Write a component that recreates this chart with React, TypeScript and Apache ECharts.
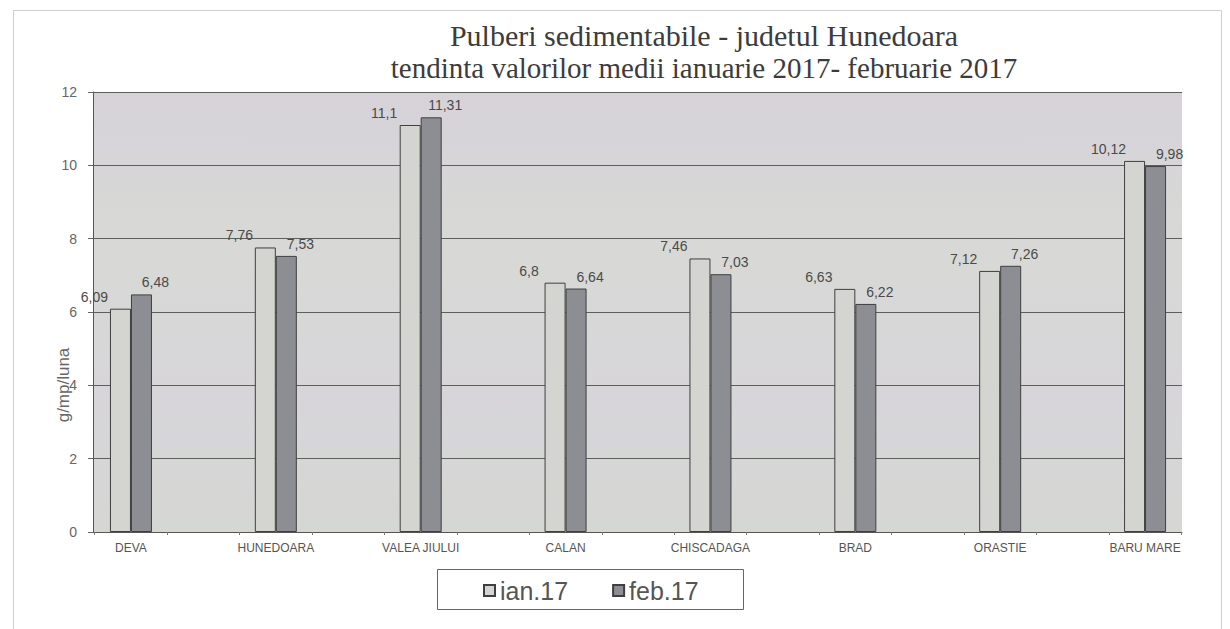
import React, { useEffect, useRef } from "react";
import * as echarts from "echarts";

const categories = ["DEVA", "HUNEDOARA", "VALEA JIULUI", "CALAN", "CHISCADAGA", "BRAD", "ORASTIE", "BARU MARE"];
const ian17 = [6.09, 7.76, 11.1, 6.8, 7.46, 6.63, 7.12, 10.12];
const feb17 = [6.48, 7.53, 11.31, 6.64, 7.03, 6.22, 7.26, 9.98];
const seriesNames = ["ian.17", "feb.17"];
const titleLines = [
  "Pulberi sedimentabile - judetul Hunedoara",
  "tendinta valorilor medii ianuarie 2017- februarie 2017",
];
const yAxisName = "g/mp/luna";

const fmt = (v: number) => String(v).replace(".", ",");

export default function App() {
  const ref = useRef<HTMLDivElement>(null);
  useEffect(() => {
    if (!ref.current) return;
    const chart = echarts.init(ref.current, undefined, { renderer: "svg" });
    const idx = categories.map((_, i) => i);
    const tickVals: number[] = [];
    for (let k = 0; k <= 2 * categories.length - 1; k++) tickVals.push(-0.25 + 0.5 * k);
    const labelStyle = {
      show: true,
      position: "top" as const,
      fontFamily: "Liberation Sans",
      fontSize: 14,
      color: "#4a4a4a",
      formatter: (p: any) => fmt(p.value[1]),
    };
    chart.setOption({
      animation: false,
      backgroundColor: "#ffffff",
      graphic: [
        {
          type: "rect",
          z: -10,
          silent: true,
          shape: { x: 13.5, y: 10.5, width: 1208, height: 650 },
          style: { fill: "none", stroke: "#cfcfcf", lineWidth: 1 },
        },
        {
          type: "text",
          x: 704,
          y: 35,
          style: {
            text: titleLines[0],
            fontFamily: "Liberation Serif",
            fontSize: 30,
            fill: "#3c3c3c",
            align: "center",
            verticalAlign: "middle",
          },
        },
        {
          type: "text",
          x: 704,
          y: 68,
          style: {
            text: titleLines[1],
            fontFamily: "Liberation Serif",
            fontSize: 29,
            fill: "#3c3c3c",
            align: "center",
            verticalAlign: "middle",
          },
        },
        {
          type: "text",
          x: 63,
          y: 385,
          rotation: Math.PI / 2,
          style: {
            text: yAxisName,
            fontFamily: "Liberation Sans",
            fontSize: 17,
            fill: "#666",
            align: "center",
            verticalAlign: "middle",
          },
        },
        {
          type: "rect",
          z: 5,
          shape: { x: 437.5, y: 569.5, width: 306, height: 40 },
          style: { fill: "#ffffff", stroke: "#666", lineWidth: 1 },
        },
      ],
      grid: {
        left: 93,
        right: 48,
        top: 92,
        bottom: 97,
        show: true,
        borderWidth: 0,
        backgroundColor: new echarts.graphic.LinearGradient(0, 0, 0, 1, [
          { offset: 0, color: "#d6d2d9" },
          { offset: 0.35, color: "#d8d9d6" },
          { offset: 0.7, color: "#d7d5d9" },
          { offset: 1, color: "#d5d7d3" },
        ]),
      },
      legend: {
        left: 478,
        top: 573,
        z: 20,
        itemWidth: 11,
        itemHeight: 11,
        itemGap: 44,
        icon: "rect",
        textStyle: { fontFamily: "Liberation Sans", fontSize: 25, color: "#555" },
        data: seriesNames,
      },
      xAxis: {
        type: "value",
        min: -0.262,
        max: 7.255,
        splitLine: { show: false },
        axisLine: { show: true, onZero: false, lineStyle: { color: "#555", width: 1 } },
        axisTick: { show: true, customValues: tickVals, length: 3, lineStyle: { color: "#777" } },
        axisLabel: {
          customValues: idx,
          margin: 10,
          fontFamily: "Liberation Sans",
          fontSize: 12,
          color: "#555",
          formatter: (v: number) => categories[Math.round(v)] ?? "",
        },
      },
      yAxis: {
        type: "value",
        min: 0,
        max: 12,
        interval: 2,
        axisLine: { show: true, onZero: false, lineStyle: { color: "#555" } },
        axisTick: { show: true, length: 5, lineStyle: { color: "#666" } },
        axisLabel: { margin: 16, fontFamily: "Liberation Sans", fontSize: 14, color: "#666" },
        splitLine: { show: true, lineStyle: { color: "#5b605b", width: 1 } },
      },
      series: [
        {
          name: seriesNames[0],
          type: "bar",
          barWidth: 21,
          barGap: "0%",
          data: idx.map((i) => [i, ian17[i]]),
          itemStyle: { color: "#d4d5d0", borderColor: "#3f3f3f", borderWidth: 1 },
          label: { ...labelStyle, offset: [-26, 0] },
        },
        {
          name: seriesNames[1],
          type: "bar",
          barWidth: 21,
          barGap: "0%",
          data: idx.map((i) => [i, feb17[i]]),
          itemStyle: { color: "#8d8d94", borderColor: "#3f3f3f", borderWidth: 1 },
          label: { ...labelStyle, offset: [14, 0] },
        },
      ],
    });
    return () => chart.dispose();
  }, []);
  return (
    <div
      ref={ref}
      style={{ position: "fixed", left: 0, top: 0, width: 1230, height: 629 }}
    />
  );
}
